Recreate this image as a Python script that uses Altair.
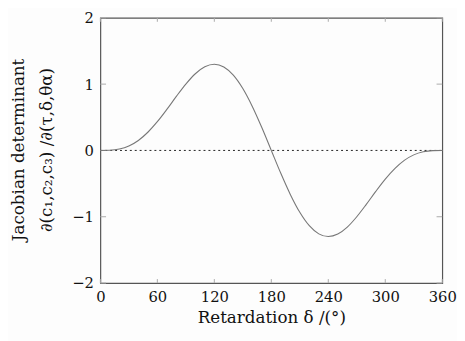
import altair as alt
import pandas as pd

# Values (every 10 degrees)
delta = [0, 10, 20, 30, 40, 50, 60, 70, 80, 90, 100, 110, 120, 130, 140, 150, 160, 170,
         180, 190, 200, 210, 220, 230, 240, 250, 260, 270, 280, 290, 300, 310, 320, 330,
         340, 350, 360]
jacobian = [0.0, 0.003, 0.021, 0.067, 0.150, 0.274, 0.433, 0.618, 0.814, 1.0, 1.156,
            1.261, 1.299, 1.258, 1.135, 0.933, 0.663, 0.345,
            0.0, -0.345, -0.663, -0.933, -1.135, -1.258, -1.299, -1.261, -1.156, -1.0,
            -0.814, -0.618, -0.433, -0.274, -0.150, -0.067, -0.021, -0.003, 0.0]

x_ticks = [0, 60, 120, 180, 240, 300, 360]
y_ticks = [-2, -1, 0, 1, 2]

curve_df = pd.DataFrame({"delta": delta, "J": jacobian})
zero_df = pd.DataFrame({"x0": [0], "x1": [360], "y": [0]})
xt_df = pd.DataFrame({"t": x_ticks})
yt_df = pd.DataFrame({"t": y_ticks})

FONT = "DejaVu Serif"
xscale = alt.Scale(domain=[0, 360], nice=False, zero=False)
yscale = alt.Scale(domain=[-2, 2], nice=False, zero=False)

xaxis = alt.Axis(values=x_ticks, title="Retardation δ /(°)", grid=False, ticks=False,
                 format="d",
                 labelFont=FONT, labelFontSize=15, labelColor="#111", labelPadding=7,
                 titleFont=FONT, titleFontSize=17, titleFontWeight="normal", titleColor="#111",
                 titlePadding=5, domain=False, labelFlush=False)
yaxis = alt.Axis(values=y_ticks, title=["Jacobian determinant", "∂(c₁,c₂,c₃) /∂(τ,δ,θα)"],
                 grid=False, ticks=False, format="d",
                 labelFont=FONT, labelFontSize=15, labelColor="#111",
                 labelPadding=7, titleFont=FONT, titleFontSize=17, titleFontWeight="normal",
                 titleColor="#111", titleAngle=270, titleX=-78, titleY=134,
                 titleBaseline="alphabetic", titleAlign="center", titleLineHeight=28,
                 domain=False, labelFlush=False)

base = alt.Chart(curve_df)

curve = base.mark_line(color="#777777", strokeWidth=1.1, interpolate="monotone").encode(
    x=alt.X("delta:Q", scale=xscale, axis=xaxis),
    y=alt.Y("J:Q", scale=yscale, axis=yaxis),
)

zero = alt.Chart(zero_df).mark_rule(color="#222", strokeDash=[2, 3], strokeWidth=1).encode(
    x=alt.X("x0:Q", scale=xscale), x2="x1:Q", y=alt.Y("y:Q", scale=yscale)
)

tick_len = 0.06
xt_bottom = alt.Chart(xt_df).mark_rule(color="#aaa", strokeWidth=1).encode(
    x=alt.X("t:Q", scale=xscale), y=alt.datum(-2), y2=alt.datum(-2 + tick_len)
)
xt_top = alt.Chart(xt_df).mark_rule(color="#aaa", strokeWidth=1).encode(
    x=alt.X("t:Q", scale=xscale), y=alt.datum(2), y2=alt.datum(2 - tick_len)
)
yt_left = alt.Chart(yt_df).mark_rule(color="#aaa", strokeWidth=1).encode(
    y=alt.Y("t:Q", scale=yscale), x=alt.datum(0), x2=alt.datum(6)
)
yt_right = alt.Chart(yt_df).mark_rule(color="#aaa", strokeWidth=1).encode(
    y=alt.Y("t:Q", scale=yscale), x=alt.datum(360), x2=alt.datum(354)
)

chart = alt.layer(zero, xt_bottom, xt_top, yt_left, yt_right, curve).properties(
    width=348, height=270,
    autosize=alt.AutoSizeParams(type="none"),
    padding={"left": 94, "top": 7, "right": 15, "bottom": 56},
    background="#fdfdfd",
).configure_view(stroke="#555555", strokeWidth=1.2)

chart.save("out.html", embed_options={"renderer": "svg", "actions": False})
